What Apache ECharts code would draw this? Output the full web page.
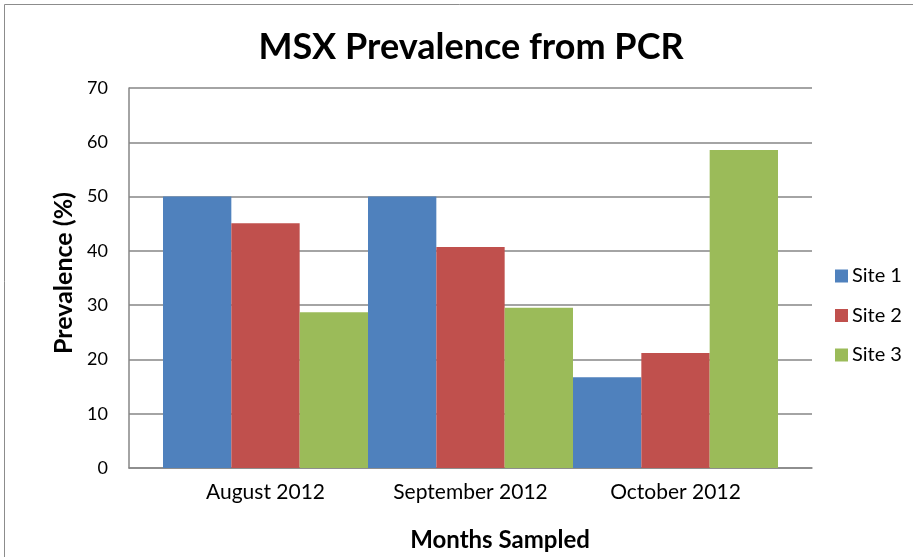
<!DOCTYPE html>
<html>
<head>
<meta charset="utf-8">
<script src="https://cdn.jsdelivr.net/npm/echarts@6/dist/echarts.min.js"></script>
<style>
  html, body { margin: 0; padding: 0; background: #fff; }
  #chart { width: 913px; height: 557px; }
</style>
</head>
<body>
<div id="chart"></div>
<script>
/* ================================
   DATA
================================ */
const months = ["August 2012", "September 2012", "October 2012"];
const site1 = [50, 50, 16.7];
const site2 = [45.1, 40.7, 21.2];
const site3 = [28.7, 29.5, 58.6];
const yTicks = { min: 0, max: 70, step: 10 };

const FONT = "Lato";
const GRID_LINE = "#868686";

/* ================================
   CHART
================================ */
const chart = echarts.init(document.getElementById("chart"));

chart.setOption({
  animation: false,
  textStyle: { fontFamily: FONT },
  legend: {
    orient: "vertical",
    left: 835,
    top: 266,
    padding: 0,
    itemWidth: 13,
    itemHeight: 13,
    itemGap: 19.5,
    icon: "rect",
    textStyle: { fontFamily: FONT, fontSize: 20, color: "#000", padding: [0, 0, 0, -1] },
    data: ["Site 1", "Site 2", "Site 3"]
  },
  // grid 0: frame with gridlines, grid 1: the bars
  grid: [
    { left: 129, right: 101, top: 88, bottom: 89 },
    { left: 163, right: 135, top: 88, bottom: 89 }
  ],
  xAxis: [
    {
      gridIndex: 0, type: "category", data: months,
      axisLine: { lineStyle: { color: GRID_LINE, width: 1.5 } },
      axisTick: { show: false }, axisLabel: { show: false }
    },
    {
      gridIndex: 1, type: "category", data: months,
      axisLine: { show: false }, axisTick: { show: false },
      axisLabel: { fontFamily: FONT, fontSize: 21, color: "#000", margin: 14 }
    }
  ],
  yAxis: [
    {
      gridIndex: 0, type: "value",
      min: yTicks.min, max: yTicks.max, interval: yTicks.step,
      axisLine: { show: true, lineStyle: { color: GRID_LINE, width: 1.5 } },
      axisTick: { show: false },
      splitLine: { lineStyle: { color: GRID_LINE, width: 1.5 } },
      axisLabel: { fontFamily: FONT, fontSize: 18, color: "#000", margin: 21 }
    },
    {
      gridIndex: 1, type: "value",
      min: yTicks.min, max: yTicks.max, interval: yTicks.step,
      show: false, splitLine: { show: false }
    }
  ],
  graphic: [
    {
      type: "rect", silent: true,
      shape: { x: 4.5, y: 4.5, width: 1000, height: 1000 },
      style: { fill: "none", stroke: "#8c8c8c", lineWidth: 1 }
    },
    {
      type: "text", x: 471, y: 47,
      style: { text: "MSX Prevalence from PCR", fontFamily: FONT, fontWeight: "bold", fontSize: 36, fill: "#000", align: "center", verticalAlign: "middle" }
    },
    {
      type: "text", x: 500, y: 540,
      style: { text: "Months Sampled", fontFamily: FONT, fontWeight: "bold", fontSize: 24, fill: "#000", align: "center", verticalAlign: "middle" }
    },
    {
      type: "text", x: 64, y: 273, rotation: Math.PI / 2,
      style: { text: "Prevalence (%)", fontFamily: FONT, fontWeight: "bold", fontSize: 25, fill: "#000", align: "center", verticalAlign: "middle" }
    }
  ],
  series: [
    { name: "Site 1", type: "bar", xAxisIndex: 1, yAxisIndex: 1, data: site1, barGap: "0%", barCategoryGap: "0%", itemStyle: { color: "#4F81BD" } },
    { name: "Site 2", type: "bar", xAxisIndex: 1, yAxisIndex: 1, data: site2, itemStyle: { color: "#C0504D" } },
    { name: "Site 3", type: "bar", xAxisIndex: 1, yAxisIndex: 1, data: site3, itemStyle: { color: "#9BBB59" } }
  ]
});
</script>
</body>
</html>
